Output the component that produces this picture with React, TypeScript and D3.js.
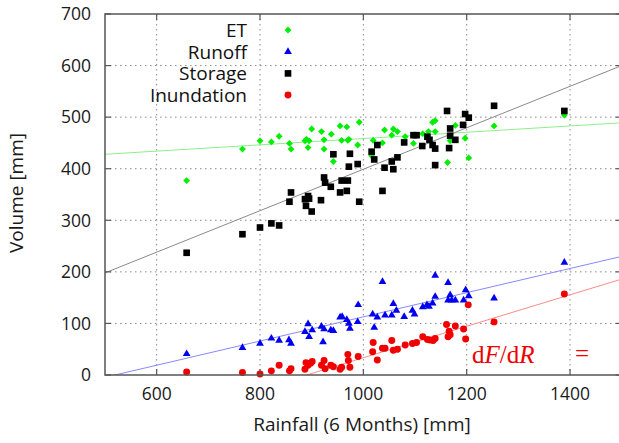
import React, { useEffect } from 'react'
import * as d3 from 'd3'

// [rainfall mm, volume mm]
const etPoints: [number, number][] = [
  [658, 377], [766, 438], [800, 454], [822, 452], [837, 463], [857, 449], [860, 438], [887, 454],
  [890, 457], [893, 441], [895, 454], [900, 477], [919, 472], [924, 456], [924, 438], [938, 467],
  [942, 414], [955, 483], [958, 455], [968, 481], [970, 455], [972, 457], [989, 446], [992, 490],
  [1016, 425], [1019, 455], [1037, 450], [1041, 475], [1055, 465], [1058, 477], [1066, 472],
  [1081, 462], [1097, 449], [1115, 468], [1126, 472], [1134, 490], [1139, 493], [1139, 472],
  [1163, 412], [1168, 454], [1178, 484], [1197, 459], [1204, 421], [1253, 483], [1389, 504],
]
const storagePoints: [number, number][] = [
  [658, 237], [766, 273], [800, 286], [822, 294], [837, 290], [857, 336], [860, 354], [887, 341],
  [889, 328], [893, 347], [895, 342], [900, 317], [918, 339], [924, 383], [926, 373], [937, 365],
  [942, 428], [955, 354], [958, 377], [968, 357], [970, 377], [972, 404], [974, 429], [989, 409],
  [992, 336], [1016, 433], [1021, 418], [1027, 446], [1037, 357], [1041, 402], [1055, 414],
  [1058, 399], [1066, 422], [1079, 451], [1097, 465], [1103, 465], [1114, 444], [1124, 462],
  [1128, 456], [1134, 446], [1139, 439], [1139, 407], [1162, 512], [1166, 440], [1168, 478],
  [1168, 464], [1178, 456], [1193, 485], [1197, 506], [1204, 499], [1253, 522], [1389, 512],
]
const runoffPoints: [number, number][] = [
  [658, 41], [766, 53], [800, 61], [822, 71], [837, 67], [856, 68], [860, 61], [887, 84],
  [893, 99], [895, 74], [901, 87], [919, 94], [922, 64], [924, 89], [937, 87], [942, 86],
  [955, 112], [959, 113], [968, 107], [972, 100], [974, 90], [989, 103], [990, 136], [1018, 118],
  [1021, 92], [1027, 112], [1037, 181], [1042, 116], [1055, 116], [1058, 138], [1064, 125],
  [1079, 113], [1095, 125], [1099, 118], [1115, 132], [1123, 136], [1127, 133], [1134, 139],
  [1139, 152], [1139, 193], [1164, 179], [1164, 145], [1168, 155], [1171, 145], [1178, 145],
  [1194, 145], [1198, 165], [1204, 153], [1253, 149], [1389, 218],
]
const inundationPoints: [number, number][] = [
  [658, 6], [766, 5], [800, 2], [822, 8], [837, 19], [857, 8], [860, 12], [887, 11],
  [889, 24], [893, 19], [898, 23], [901, 26], [919, 19], [924, 28], [926, 12], [937, 19],
  [942, 16], [955, 11], [958, 15], [970, 40], [971, 28], [974, 15], [990, 36], [1018, 45],
  [1019, 63], [1027, 29], [1037, 52], [1042, 52], [1055, 67], [1058, 48], [1066, 50],
  [1081, 58], [1095, 61], [1103, 63], [1115, 74], [1124, 69], [1129, 68], [1135, 67],
  [1139, 71], [1161, 98], [1164, 74], [1166, 85], [1168, 78], [1178, 95], [1194, 89],
  [1198, 70], [1203, 136], [1253, 103], [1389, 157],
]

// linear fits: value at rainfall 500 and 1500
const fitAt500 = { et: 428, runoff: -4.5, storage: 198, inundation: -119 }
const fitAt1500 = { et: 489, runoff: 230, storage: 600, inundation: 186 }

const xTicks = [600, 800, 1000, 1200, 1400]
const yTicks = [0, 100, 200, 300, 400, 500, 600, 700]
const legendLabels = ['ET', 'Runoff', 'Storage', 'Inundation']

const W = 619
const H = 443
const left = 105
const right = 621.7
const top = 14
const bottom = 375

const font = '"Open Sans", sans-serif'
const serif = '"Liberation Serif", "DejaVu Serif", serif'

const App = () => {
  useEffect(() => {
    document.body.style.margin = '0'
  }, [])

  const x = d3.scaleLinear().domain([500, 1500]).range([left, right])
  const y = d3.scaleLinear().domain([0, 700]).range([bottom, top])

  const diamond = d3.symbol().type(d3.symbolDiamond2).size(30)
  const triangle = d3.symbol().type(d3.symbolTriangle).size(26)
  const square = d3.symbol().type(d3.symbolSquare).size(44)
  const circle = d3.symbol().type(d3.symbolCircle).size(38)

  const series = [
    { key: 'et', pts: etPoints, color: '#00ee00', line: '#8cf08c', sym: diamond },
    { key: 'runoff', pts: runoffPoints, color: '#0000f0', line: '#8888ff', sym: triangle },
    { key: 'storage', pts: storagePoints, color: '#000000', line: '#8a8a8a', sym: square },
    { key: 'inundation', pts: inundationPoints, color: '#f00000', line: '#ff8a8a', sym: circle },
  ] as const

  const gridStroke = '#8a8a8a'
  const axisStroke = '#555'

  return (
    <div className='App'>
      <svg width={W} height={H} style={{ display: 'block', background: '#fff' }}>
        <defs>
          <clipPath id='plot'>
            <rect x={left} y={top} width={right - left} height={bottom - top} />
          </clipPath>
        </defs>

        {/* grid */}
        {xTicks.map(t => (
          <line key={'gx' + t} x1={x(t)} x2={x(t)} y1={top} y2={bottom}
            stroke={gridStroke} strokeWidth={1} strokeDasharray='1.5,3.5' />
        ))}
        {yTicks.filter(t => t > 0 && t < 700).map(t => (
          <line key={'gy' + t} x1={left} x2={right} y1={y(t)} y2={y(t)}
            stroke={gridStroke} strokeWidth={1} strokeDasharray='1.5,3.5' />
        ))}

        {/* fit lines */}
        <g clipPath='url(#plot)'>
          {series.map(s => (
            <line key={'fit' + s.key} x1={x(500)} y1={y(fitAt500[s.key])}
              x2={x(1500)} y2={y(fitAt1500[s.key])} stroke={s.line} strokeWidth={1} />
          ))}
        </g>

        {/* points */}
        {series.map(s => (
          <g key={'pts' + s.key}>
            {s.pts.map((p, i) => (
              <path key={i} d={s.sym() || ''} transform={`translate(${x(p[0])},${y(p[1])})`} fill={s.color} />
            ))}
          </g>
        ))}

        {/* frame and ticks */}
        <rect x={left} y={top} width={right - left} height={bottom - top} fill='none' stroke={axisStroke} strokeWidth={1.5} />
        {xTicks.map(t => (
          <g key={'tx' + t}>
            <line x1={x(t)} x2={x(t)} y1={bottom} y2={bottom - 6} stroke={axisStroke} strokeWidth={1.2} />
            <line x1={x(t)} x2={x(t)} y1={top} y2={top + 6} stroke={axisStroke} strokeWidth={1.2} />
            <text x={x(t)} y={400} textAnchor='middle' fontFamily={font} fontSize={17.5} fill='#1a1a1a'>{t}</text>
          </g>
        ))}
        {yTicks.map(t => (
          <g key={'ty' + t}>
            <line x1={left} x2={left + 6} y1={y(t)} y2={y(t)} stroke={axisStroke} strokeWidth={1.2} />
            <line x1={right} x2={right - 6} y1={y(t)} y2={y(t)} stroke={axisStroke} strokeWidth={1.2} />
            <text x={91} y={y(t)} dy='0.36em' textAnchor='end' fontFamily={font} fontSize={17.5} fill='#1a1a1a'>{t}</text>
          </g>
        ))}

        {/* axis titles */}
        <text x={362} y={431} textAnchor='middle' fontFamily={font} fontSize={19} fill='#1a1a1a'>Rainfall (6 Months) [mm]</text>
        <text transform='translate(23,193) rotate(-90)' textAnchor='middle' fontFamily={font} fontSize={19} fill='#1a1a1a'>Volume [mm]</text>

        {/* legend */}
        {series.map((s, i) => {
          const ly = 30 + i * 21.7
          return (
            <g key={'lg' + s.key}>
              <text x={247} y={ly} dy='0.36em' textAnchor='end' fontFamily={font} fontSize={19} fill='#111'>{legendLabels[i]}</text>
              <path d={s.sym() || ''} transform={`translate(288,${ly})`} fill={s.color} />
            </g>
          )
        })}

        {/* slope annotation */}
        <text x={472} y={363} fontFamily={serif} fontSize={25} fill='#ee0000'>
          d<tspan fontStyle='italic'>F</tspan>/d<tspan fontStyle='italic'>R</tspan>
        </text>
        <text x={575} y={362} fontFamily={serif} fontSize={25} fill='#ee0000'>=</text>
      </svg>
    </div>
  )
}

export default App
